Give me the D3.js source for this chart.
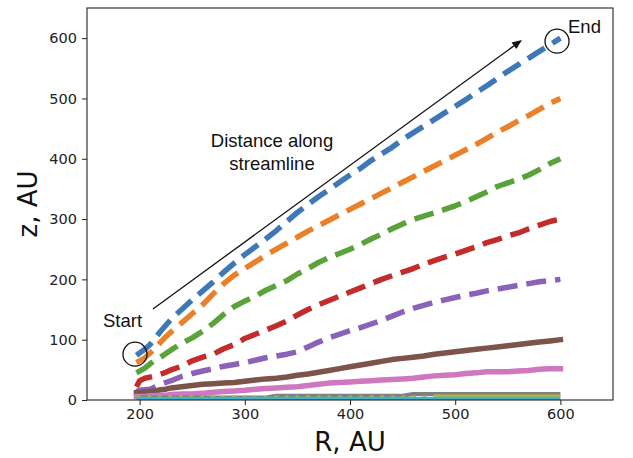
<!DOCTYPE html>
<html>
<head>
<meta charset="utf-8">
<script src="https://cdn.jsdelivr.net/npm/d3@7"></script>
<style>
  body { margin: 0; background: #fff; }
  svg { display: block; }
</style>
</head>
<body>
<div id="chart"></div>
<script>
var width = 633;
var height = 458;
var margin = {top: 8, right: 20, bottom: 58, left: 87};

// radial distance along each streamline (shared grid), AU
var radius = [197,200,205,210,215,220,225,230,240,250,260,270,280,290,300,310,320,330,
  340,350,360,370,380,390,400,410,420,430,440,450,460,470,480,490,500,510,520,530,
  540,550,560,570,580,590,600];

// height of each streamline, AU
var zBlue   = [74,78,84,92,103,114,124,134,150,166,181,196,212,227,241,254,267,281,
  296,311,324,337,349,361,373,384,397,408,419,432,443,454,465,476,487,498,510,521,
  533,545,556,567,578,589,600];
var zOrange = [62,65,70,78,86,96,105,113,128,143,158,176,193,207,218,229,240,250,
  260,270,280,289,298,307,316,325,334,343,352,361,370,379,388,397,406,415,424,434,
  444,453,463,472,482,492,500];
var zGreen  = [45,48,53,60,66,71,77,83,94,103,114,127,142,155,164,172,182,190,
  198,209,218,228,236,243,250,258,267,275,284,292,299,305,310,316,322,329,337,345,
  354,360,366,373,382,392,400];
var zRed    = [22,32,36,38,40,43,46,50,56,65,71,76,85,92,102,109,116,123,
  131,141,150,158,165,172,179,186,193,200,206,212,218,225,231,237,242,248,254,261,
  266,272,277,284,290,296,300];
var zPurple = [14,16,17,18,22,26,29,32,39,44,48,52,56,59,62,66,70,73,
  76,80,88,96,103,109,115,120,126,132,139,146,152,157,162,166,170,174,177,181,
  184,187,190,193,196,198,200];
var zBrown  = [12,12,13,14,15,17,18,20,22,24,26,27,28,29,31,33,35,36,
  38,41,43,46,49,52,55,58,61,64,67,69,71,73,76,78,80,82,84,86,
  88,90,92,94,96,98,100];
var zPink   = [6,6,6,7,7,8,8,9,10,10,11,13,14,15,16,18,19,20,
  21,22,24,26,28,29,30,31,32,33,34,35,36,38,40,41,42,44,45,47,
  47,47,48,49,51,52,52];
var zGrey   = [4,4,4,4,4,4,4,4,4,4,4,4,4,4,4,4,4,7,
  7,7,7,7,7,7,7,7,7,7,7,7,10,10,10,10,10,10,10,10,
  10,10,10,10,10,10,10];
var zOlive  = [4,4,4,4,4,4,4,4,4,4,4,4,4,4,4,4,4,4,
  4,4,4,4,4,4,4,4,4,4,4,4,4,4,6,6,6,6,6,6,
  6,6,6,6,6,6,6];
var zCyan   = [2,2,2,2,2,2,2,2,2,2,2,2,2,2,2,2,2,2,
  2,2,2,2,2,2,2,2,2,2,2,2,2,2,2,2,2,2,2,2,
  2,2,2,2,2,2,2];

var xTicks = [200, 300, 400, 500, 600];
var yTicks = [0, 100, 200, 300, 400, 500, 600];

var series = [
  {z: zBlue,   color: '#3f78b9', style: 'dash'},
  {z: zOrange, color: '#ea812a', style: 'dash'},
  {z: zGreen,  color: '#5aa23a', style: 'dash'},
  {z: zRed,    color: '#c32c2c', style: 'dash'},
  {z: zPurple, color: '#8a62b8', style: 'dash'},
  {z: zBrown,  color: '#7c5449', style: 'solid'},
  {z: zPink,   color: '#cf77bf', style: 'solid'},
  {z: zGrey,   color: '#7f7f7f', style: 'thin'},
  {z: zOlive,  color: '#b8b82c', style: 'dot'},
  {z: zCyan,   color: '#3fb3cc', style: 'thin'}
];

var svg = d3.select('#chart')
  .append('svg')
  .attr('width', width)
  .attr('height', height);

var x = d3.scaleLinear().domain([150, 650]).range([margin.left, width - margin.right]);
var y = d3.scaleLinear().domain([0, 650]).range([height - margin.bottom, margin.top]);

svg.append('clipPath').attr('id', 'clip')
  .append('rect')
  .attr('x', x(150)).attr('y', y(650))
  .attr('width', x(650) - x(150)).attr('height', y(0) - y(650));

var line = d3.line()
  .x(d => x(d[0]))
  .y(d => y(d[1]));

var lines = svg.append('g').attr('clip-path', 'url(#clip)');

series.forEach(function(s) {
  var pts = radius.map((r, i) => [r, s.z[i]]);
  if (s.style == 'dot') {
    // olive one: dotted low down, solid once it lifts off
    var cut = 480;
    lines.append('path')
      .attr('d', line(pts.filter(p => p[0] <= cut)))
      .attr('fill', 'none')
      .attr('stroke', s.color)
      .attr('stroke-width', 4)
      .attr('stroke-dasharray', '4,6.6');
    lines.append('path')
      .attr('d', line(pts.filter(p => p[0] >= cut)))
      .attr('fill', 'none')
      .attr('stroke', s.color)
      .attr('stroke-width', 4);
    return;
  }
  var p = lines.append('path')
    .attr('d', line(pts))
    .attr('fill', 'none')
    .attr('stroke', s.color)
    .attr('stroke-linejoin', 'round');
  if (s.style == 'dash') {
    p.attr('stroke-width', 5.5).attr('stroke-dasharray', '20,9');
  } else if (s.style == 'thin') {
    p.attr('stroke-width', 4);
  } else {
    p.attr('stroke-width', 5.5).attr('stroke-linecap', 'square');
  }
});

// axes
var xAxis = svg.append('g')
  .attr('transform', `translate(0, ${y(0)})`)
  .call(d3.axisBottom(x).tickValues(xTicks).tickSize(5).tickPadding(4));
var yAxis = svg.append('g')
  .attr('transform', `translate(${x(150)}, 0)`)
  .call(d3.axisLeft(y).tickValues(yTicks).tickSize(5).tickPadding(5));

[xAxis, yAxis].forEach(function(a) {
  a.select('.domain').remove();
  a.selectAll('line').attr('stroke', '#222').attr('stroke-width', 1);
  a.selectAll('text')
    .attr('fill', '#222')
    .style('font-family', 'DejaVu Sans')
    .style('font-size', '14.5px');
});

// frame
svg.append('rect')
  .attr('x', x(150)).attr('y', y(650))
  .attr('width', x(650) - x(150)).attr('height', y(0) - y(650))
  .attr('fill', 'none')
  .attr('stroke', '#222')
  .attr('stroke-width', 1.1);

svg.append('text')
  .attr('x', (x(150) + x(650)) / 2)
  .attr('y', 451)
  .attr('text-anchor', 'middle')
  .style('font-family', 'DejaVu Sans')
  .style('font-size', '26px')
  .attr('fill', '#111')
  .text('R, AU');

svg.append('text')
  .attr('transform', `translate(37, ${(y(0) + y(650)) / 2}) rotate(-90)`)
  .attr('text-anchor', 'middle')
  .style('font-family', 'DejaVu Sans')
  .style('font-size', '26px')
  .attr('fill', '#111')
  .text('z, AU');

// annotations
var ann = svg.append('g')
  .style('font-family', 'Liberation Sans, Arial, sans-serif')
  .style('font-size', '18.5px')
  .attr('fill', '#111');

ann.append('text').attr('x', 272).attr('y', 147).attr('text-anchor', 'middle').text('Distance along');
ann.append('text').attr('x', 272).attr('y', 170).attr('text-anchor', 'middle').text('streamline');
ann.append('text').attr('x', 103).attr('y', 327).text('Start');
ann.append('text').attr('x', 568).attr('y', 33).text('End');

[[195.6, 76], [596.8, 595]].forEach(function(c) {
  svg.append('circle')
    .attr('cx', x(c[0])).attr('cy', y(c[1])).attr('r', 12)
    .attr('fill', 'none')
    .attr('stroke', '#111')
    .attr('stroke-width', 1.3);
});

var a0 = [x(212.7), y(151)];
var a1 = [x(563.5), y(597)];
var ang = Math.atan2(a1[1] - a0[1], a1[0] - a0[0]);
var headLen = 10, headW = 4;
var base = [a1[0] - headLen * Math.cos(ang), a1[1] - headLen * Math.sin(ang)];
svg.append('line')
  .attr('x1', a0[0]).attr('y1', a0[1])
  .attr('x2', base[0]).attr('y2', base[1])
  .attr('stroke', '#111')
  .attr('stroke-width', 1.3);
svg.append('path')
  .attr('d', 'M' + a1[0] + ',' + a1[1] +
    'L' + (base[0] + headW * Math.sin(ang)) + ',' + (base[1] - headW * Math.cos(ang)) +
    'L' + (base[0] - headW * Math.sin(ang)) + ',' + (base[1] + headW * Math.cos(ang)) + 'Z')
  .attr('fill', '#111');
</script>
</body>
</html>
